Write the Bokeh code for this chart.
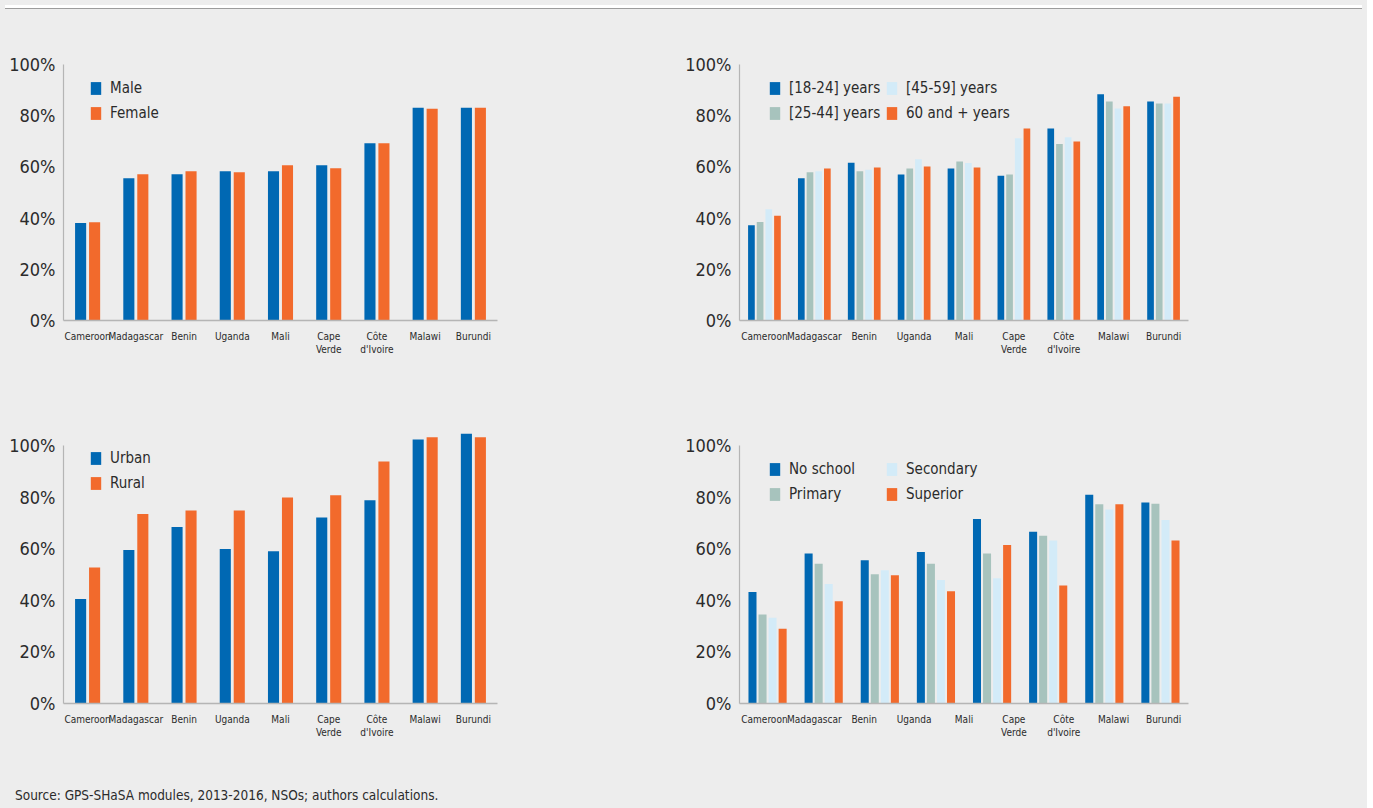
from bokeh.plotting import figure
from bokeh.models import (FactorRange, Range1d, FixedTicker, Legend, LegendItem,
                          CategoricalAxis, ColumnDataSource, Div)
from bokeh.transform import dodge
from bokeh.layouts import column, row
from bokeh.embed import file_html
from bokeh.resources import INLINE

# ---------------- data ----------------
countries = ["Cameroon", "Madagascar", "Benin", "Uganda", "Mali",
             "Cape\nVerde", "Côte\nd'Ivoire", "Malawi", "Burundi"]
edu_countries = ["Cameroon", "Madagascar", "Benin", "Uganda",
                 "Cape\nVerde", "Côte\nd'Ivoire", "Malawi", "Burundi"]

male = [38.1, 55.6, 57.1, 58.3, 58.3, 60.6, 69.2, 83.1, 83.1]
female = [38.4, 57.1, 58.3, 57.9, 60.6, 59.5, 69.2, 82.7, 83.1]

age_18_24 = [37.2, 55.6, 61.6, 57.0, 59.4, 56.5, 75.0, 88.4, 85.5]
age_25_44 = [38.5, 57.9, 58.3, 59.4, 62.1, 57.0, 68.9, 85.5, 84.8]
age_45_59 = [43.5, 58.3, 58.9, 63.0, 61.5, 71.2, 71.6, 82.8, 84.8]
age_60_plus = [40.9, 59.4, 59.8, 60.2, 59.8, 75.0, 69.9, 83.7, 87.4]

urban = [40.5, 59.5, 68.4, 59.9, 59.0, 72.1, 78.8, 102.3, 104.5]
rural = [52.7, 73.4, 74.8, 74.8, 79.8, 80.7, 93.8, 103.2, 103.2]

no_school = [43.2, 58.1, 55.5, 58.7, 71.5, 66.6, 80.9, 77.9]
primary = [34.5, 54.2, 50.1, 54.2, 58.1, 65.0, 77.2, 77.4]
secondary = [33.2, 46.3, 51.6, 47.9, 48.5, 63.2, 75.2, 71.1]
superior = [29.0, 39.6, 49.7, 43.5, 61.4, 45.7, 77.2, 63.2]

y_ticks = [0, 20, 40, 60, 80, 100]
y_tick_labels = {t: f"{t}%" for t in y_ticks}

source_text = "Source: GPS-SHaSA modules, 2013-2016, NSOs; authors calculations."

# ---------------- style ----------------
BLUE = "#0068b3"
ORANGE = "#f26a2c"
GREYGREEN = "#a7c3bd"
LIGHTBLUE = "#d3ebf8"
BG = "#ededed"
AXIS = "#b5b5b5"
TXT = "#2b2b2b"
FONT = "DejaVu Sans Condensed, Roboto"


def make_fig(factors, width, height, bl, br, bt, bb, ymax, axis_factors=None):
    kw = dict(x_range=FactorRange(factors=factors, range_padding=0),
              y_range=Range1d(0, ymax), width=width, height=height,
              title=None,
              output_backend="svg", toolbar_location=None,
              min_border_left=bl, min_border_right=br,
              min_border_top=bt, min_border_bottom=bb,
              background_fill_color=BG, border_fill_color=BG,
              outline_line_color=None)
    if axis_factors is not None:
        kw["x_axis_location"] = None
    p = figure(**kw)
    if axis_factors is not None:
        p.extra_x_ranges = {"labels": FactorRange(factors=axis_factors, range_padding=0)}
        xa = CategoricalAxis(x_range_name="labels")
        p.add_layout(xa, "below")
    xa = p.xaxis[0]
    xa.major_label_text_font = FONT
    xa.major_label_text_font_size = "10px"
    xa.major_label_text_color = TXT
    xa.major_label_standoff = 10
    xa.major_tick_out = 0
    xa.major_tick_in = 0
    xa.axis_line_color = AXIS
    xa.axis_line_width = 1.5
    xa.major_tick_line_color = None
    xa.minor_tick_line_color = None
    ya = p.yaxis[0]
    ya.ticker = FixedTicker(ticks=y_ticks)
    ya.bounds = (0, 100)
    ya.major_label_overrides = y_tick_labels
    ya.major_label_text_font = FONT
    ya.major_label_text_font_size = "18px"
    ya.major_label_text_color = TXT
    ya.major_label_standoff = 8
    ya.major_tick_out = 0
    ya.major_tick_in = 0
    ya.axis_line_color = AXIS
    ya.axis_line_width = 1.2
    ya.major_tick_line_color = None
    ya.minor_tick_line_color = None
    p.xgrid.grid_line_color = None
    p.ygrid.grid_line_color = None
    return p


def add_bars(p, cats, series, colors, width, pitch):
    n = len(series)
    data = {"cat": cats}
    for i, s in enumerate(series):
        data[f"s{i}"] = s
    src = ColumnDataSource(data)
    rs = []
    for i, col in enumerate(colors):
        off = (i - (n - 1) / 2) * pitch
        r = p.vbar(x=dodge("cat", off, range=p.x_range), top=f"s{i}", width=width,
                   source=src, fill_color=col, line_color=None)
        rs.append(r)
    return rs


def add_legend(p, labels, renderers, loc):
    items = [LegendItem(label=l, renderers=[r]) for l, r in zip(labels, renderers)]
    lg = Legend(items=items, location=loc, orientation="vertical",
                background_fill_alpha=0, border_line_color=None,
                padding=0, margin=0, spacing=5, glyph_width=13, glyph_height=16,
                label_height=20, label_standoff=8,
                label_text_font=FONT, label_text_font_size="15px",
                label_text_color=TXT)
    p.add_layout(lg)
    return lg


# ---- top left: sex ----
p1 = make_fig(countries, 682, 386, 63, 185, 50, 80, 100)
r1 = add_bars(p1, countries, [male, female], [BLUE, ORANGE], 0.23, 0.29)
add_legend(p1, ["Male", "Female"], r1, (26, 197))

# ---- top right: age ----
p2 = make_fig(countries, 675, 386, 57, 169, 50, 80, 100)
r2 = add_bars(p2, countries, [age_18_24, age_25_44, age_45_59, age_60_plus],
              [BLUE, GREYGREEN, LIGHTBLUE, ORANGE], 0.134, 0.174)
add_legend(p2, ["[18-24] years", "[25-44] years"], r2[:2], (29, 197))
add_legend(p2, ["[45-59] years", "60 and + years"], r2[2:], (146, 197))

# ---- bottom left: area ----
p3 = make_fig(countries, 682, 360, 63, 185, 30, 57, 105.8)
r3 = add_bars(p3, countries, [urban, rural], [BLUE, ORANGE], 0.23, 0.29)
add_legend(p3, ["Urban", "Rural"], r3, (26, 210))

# ---- bottom right: education ----
p4 = make_fig(edu_countries, 675, 360, 57, 169, 30, 57, 105.8, axis_factors=countries)
r4 = add_bars(p4, edu_countries, [no_school, primary, secondary, superior],
              [BLUE, GREYGREEN, LIGHTBLUE, ORANGE], 0.143, 0.179)
add_legend(p4, ["No school", "Primary"], r4[:2], (29, 199))
add_legend(p4, ["Secondary", "Superior"], r4[2:], (146, 199))

top = Div(text="", width=1357, height=4,
          styles={"background-color": "white", "border-bottom": "1px solid #9c9c9c"})
src_div = Div(text=f'<div style="padding:21px 0 0 10px;font-family:{FONT};'
                   f'font-size:13.5px;color:{TXT};">{source_text}</div>',
              width=1357, height=40, styles={"background-color": BG})

layout = column(top, row(p1, p2), row(p3, p4), src_div)
layout.styles = {"background-color": BG}

open("out.html", "w").write(file_html(layout, INLINE))
